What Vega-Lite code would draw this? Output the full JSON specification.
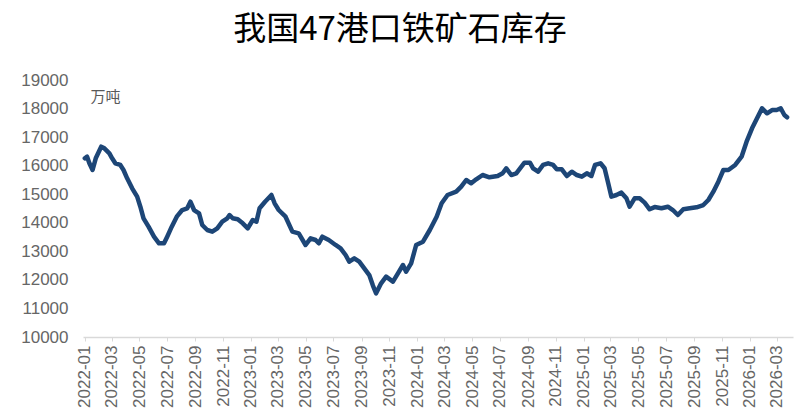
{
  "$schema": "https://vega.github.io/schema/vega-lite/v6.json",
  "width": 710,
  "height": 257,
  "autosize": "none",
  "padding": {"left": 83, "top": 80, "right": 6, "bottom": 79},
  "background": "white",
  "config": {"view": {"stroke": null}, "font": "Liberation Sans"},
  "title": {
    "text": "我国47港口铁矿石库存",
    "font": "Noto Sans CJK SC",
    "fontSize": 33,
    "fontWeight": "normal",
    "color": "#000000",
    "anchor": "middle",
    "frame": "group",
    "dx": -38,
    "offset": 24
  },
  "data": {
    "values": [
      {"date": "2022-01-01", "value": 16258},
      {"date": "2022-01-06", "value": 16314},
      {"date": "2022-01-11", "value": 16083},
      {"date": "2022-01-18", "value": 15848},
      {"date": "2022-01-25", "value": 16258},
      {"date": "2022-02-06", "value": 16664},
      {"date": "2022-02-13", "value": 16607},
      {"date": "2022-02-24", "value": 16433},
      {"date": "2022-03-02", "value": 16258},
      {"date": "2022-03-09", "value": 16083},
      {"date": "2022-03-20", "value": 16025},
      {"date": "2022-03-27", "value": 15848},
      {"date": "2022-04-04", "value": 15558},
      {"date": "2022-04-15", "value": 15208},
      {"date": "2022-04-26", "value": 14915},
      {"date": "2022-05-03", "value": 14563},
      {"date": "2022-05-10", "value": 14157},
      {"date": "2022-05-21", "value": 13863},
      {"date": "2022-06-02", "value": 13513},
      {"date": "2022-06-13", "value": 13281},
      {"date": "2022-06-24", "value": 13281},
      {"date": "2022-07-01", "value": 13513},
      {"date": "2022-07-11", "value": 13863},
      {"date": "2022-07-22", "value": 14213},
      {"date": "2022-08-03", "value": 14447},
      {"date": "2022-08-14", "value": 14507},
      {"date": "2022-08-21", "value": 14738},
      {"date": "2022-08-29", "value": 14447},
      {"date": "2022-09-09", "value": 14332},
      {"date": "2022-09-16", "value": 13922},
      {"date": "2022-09-27", "value": 13747},
      {"date": "2022-10-08", "value": 13688},
      {"date": "2022-10-19", "value": 13807},
      {"date": "2022-10-30", "value": 14038},
      {"date": "2022-11-10", "value": 14157},
      {"date": "2022-11-15", "value": 14272},
      {"date": "2022-11-22", "value": 14157},
      {"date": "2022-12-03", "value": 14122},
      {"date": "2022-12-14", "value": 13982},
      {"date": "2022-12-25", "value": 13807},
      {"date": "2023-01-05", "value": 14097},
      {"date": "2023-01-13", "value": 14038},
      {"date": "2023-01-20", "value": 14507},
      {"date": "2023-02-01", "value": 14738},
      {"date": "2023-02-15", "value": 14973},
      {"date": "2023-02-22", "value": 14682},
      {"date": "2023-03-03", "value": 14447},
      {"date": "2023-03-18", "value": 14213},
      {"date": "2023-04-02", "value": 13688},
      {"date": "2023-04-16", "value": 13630},
      {"date": "2023-05-01", "value": 13222},
      {"date": "2023-05-12", "value": 13457},
      {"date": "2023-05-23", "value": 13397},
      {"date": "2023-05-30", "value": 13281},
      {"date": "2023-06-07", "value": 13513},
      {"date": "2023-06-21", "value": 13397},
      {"date": "2023-07-06", "value": 13222},
      {"date": "2023-07-17", "value": 13106},
      {"date": "2023-07-28", "value": 12872},
      {"date": "2023-08-05", "value": 12637},
      {"date": "2023-08-16", "value": 12755},
      {"date": "2023-08-27", "value": 12637},
      {"date": "2023-09-07", "value": 12404},
      {"date": "2023-09-18", "value": 12170},
      {"date": "2023-09-26", "value": 11800},
      {"date": "2023-10-03", "value": 11530},
      {"date": "2023-10-14", "value": 11880},
      {"date": "2023-10-25", "value": 12113},
      {"date": "2023-11-09", "value": 11938},
      {"date": "2023-11-20", "value": 12230},
      {"date": "2023-12-01", "value": 12521},
      {"date": "2023-12-08", "value": 12287},
      {"date": "2023-12-19", "value": 12580},
      {"date": "2023-12-30", "value": 13222},
      {"date": "2024-01-14", "value": 13337},
      {"date": "2024-01-29", "value": 13747},
      {"date": "2024-02-13", "value": 14213},
      {"date": "2024-02-24", "value": 14682},
      {"date": "2024-03-08", "value": 14973},
      {"date": "2024-03-27", "value": 15088},
      {"date": "2024-04-07", "value": 15263},
      {"date": "2024-04-18", "value": 15498},
      {"date": "2024-04-29", "value": 15383},
      {"date": "2024-05-10", "value": 15522},
      {"date": "2024-05-24", "value": 15673},
      {"date": "2024-06-08", "value": 15593},
      {"date": "2024-06-26", "value": 15638},
      {"date": "2024-07-07", "value": 15733},
      {"date": "2024-07-15", "value": 15908},
      {"date": "2024-07-26", "value": 15673},
      {"date": "2024-08-06", "value": 15733},
      {"date": "2024-08-24", "value": 16104},
      {"date": "2024-09-05", "value": 16104},
      {"date": "2024-09-12", "value": 15908},
      {"date": "2024-09-23", "value": 15789},
      {"date": "2024-10-04", "value": 16025},
      {"date": "2024-10-15", "value": 16083},
      {"date": "2024-10-26", "value": 16025},
      {"date": "2024-11-03", "value": 15873},
      {"date": "2024-11-14", "value": 15873},
      {"date": "2024-11-25", "value": 15638},
      {"date": "2024-12-06", "value": 15789},
      {"date": "2024-12-17", "value": 15673},
      {"date": "2024-12-28", "value": 15614},
      {"date": "2025-01-08", "value": 15733},
      {"date": "2025-01-18", "value": 15638},
      {"date": "2025-01-26", "value": 16025},
      {"date": "2025-02-07", "value": 16083},
      {"date": "2025-02-16", "value": 15908},
      {"date": "2025-02-24", "value": 15383},
      {"date": "2025-03-03", "value": 14915},
      {"date": "2025-03-14", "value": 14973},
      {"date": "2025-03-25", "value": 15055},
      {"date": "2025-04-05", "value": 14857},
      {"date": "2025-04-12", "value": 14563},
      {"date": "2025-04-23", "value": 14857},
      {"date": "2025-05-04", "value": 14857},
      {"date": "2025-05-15", "value": 14704},
      {"date": "2025-05-26", "value": 14472},
      {"date": "2025-06-06", "value": 14550},
      {"date": "2025-06-21", "value": 14507},
      {"date": "2025-07-05", "value": 14563},
      {"date": "2025-07-16", "value": 14447},
      {"date": "2025-07-27", "value": 14272},
      {"date": "2025-08-08", "value": 14472},
      {"date": "2025-08-22", "value": 14507},
      {"date": "2025-09-06", "value": 14542},
      {"date": "2025-09-21", "value": 14622},
      {"date": "2025-10-02", "value": 14798},
      {"date": "2025-10-13", "value": 15088},
      {"date": "2025-10-24", "value": 15438},
      {"date": "2025-11-04", "value": 15848},
      {"date": "2025-11-15", "value": 15848},
      {"date": "2025-11-30", "value": 16025},
      {"date": "2025-12-14", "value": 16314},
      {"date": "2025-12-25", "value": 16839},
      {"date": "2026-01-06", "value": 17309},
      {"date": "2026-01-17", "value": 17659},
      {"date": "2026-01-28", "value": 18009},
      {"date": "2026-02-08", "value": 17834},
      {"date": "2026-02-19", "value": 17949},
      {"date": "2026-03-01", "value": 17949},
      {"date": "2026-03-10", "value": 18009},
      {"date": "2026-03-18", "value": 17774},
      {"date": "2026-03-24", "value": 17694}
    ]
  },
  "mark": {"type": "line", "color": "#1d4677", "strokeWidth": 4.5, "strokeJoin": "round", "strokeCap": "round"},
  "encoding": {
    "x": {
      "field": "date",
      "type": "temporal",
      "scale": {
        "type": "utc",
        "domain": [
          {"year": 2021, "month": 12, "date": 28, "utc": true},
          {"year": 2026, "month": 4, "date": 6, "utc": true}
        ],
        "nice": false
      },
      "axis": {
        "title": null,
        "format": "%Y-%m",
        "tickCount": {"interval": "month", "step": 2},
        "labelAngle": -90,
        "labelAlign": "right",
        "labelBaseline": "middle",
        "labelFontSize": 17,
        "labelColor": "#666666",
        "labelPadding": 4,
        "labelFlush": false,
        "labelOverlap": false,
        "domainColor": "#d9d9d9",
        "domainWidth": 1.5,
        "tickColor": "#d9d9d9",
        "tickSize": 4,
        "grid": false
      }
    },
    "y": {
      "field": "value",
      "type": "quantitative",
      "scale": {"domain": [10000, 19000], "nice": false, "zero": false},
      "axis": {
        "title": "万吨",
        "titleAngle": 0,
        "titleAlign": "left",
        "titleBaseline": "middle",
        "titleX": 7,
        "titleY": 16,
        "titleFont": "Noto Sans CJK SC",
        "titleFontSize": 15,
        "titleFontWeight": "normal",
        "titleColor": "#595959",
        "values": [10000, 11000, 12000, 13000, 14000, 15000, 16000, 17000, 18000, 19000],
        "format": "d",
        "labelFontSize": 17,
        "labelColor": "#666666",
        "labelPadding": 15,
        "domain": false,
        "ticks": false,
        "grid": false
      }
    }
  }
}
